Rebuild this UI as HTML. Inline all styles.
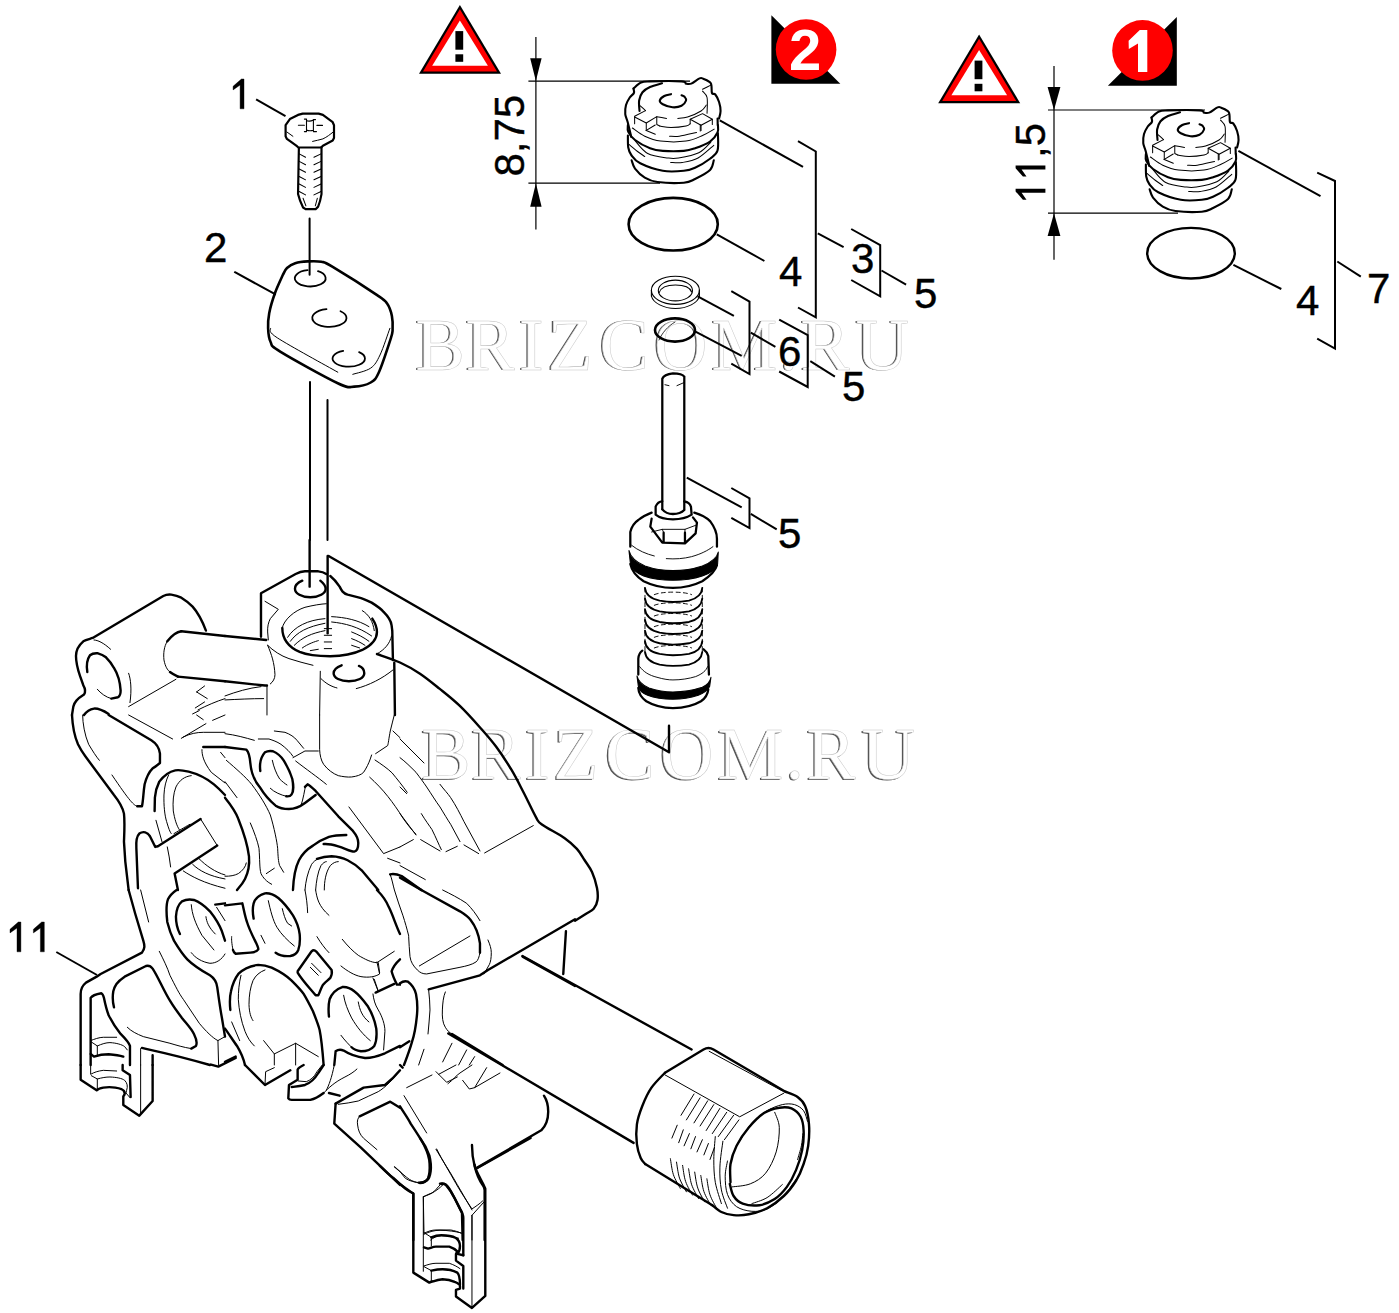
<!DOCTYPE html>
<html><head><meta charset="utf-8">
<style>
html,body{margin:0;padding:0;background:#fff;}
svg{display:block;}
.t{font-family:"Liberation Sans",sans-serif;font-size:42px;fill:#000;stroke:#000;stroke-width:0.4;}
.wm{font-family:"Liberation Serif",serif;font-size:74px;fill:#fff;stroke:#888;stroke-width:0.6;}
.ln{stroke:#000;stroke-width:2;fill:none;stroke-linecap:butt;}
.th{stroke:#000;stroke-width:1.2;fill:none;}
</style></head><body>
<svg width="1399" height="1313" viewBox="0 0 1399 1313">
<defs>
<path id="one" d="M8.3,0 L10.9,0 L10.9,29.8 L7,29.8 L7,6 L0,10.9 L0,7.3 Z"/>
</defs>
<rect width="1399" height="1313" fill="#fff"/>
<g id="wm" style="font-family:'Liberation Serif',serif;font-size:74px">
<g fill="#555" transform="translate(-1.5,0.9)">
<text x="415.4 465.4 519.1 547.4 599.4 654.1 711.6 779.5 800.6 855.6" y="369.5">BRIZCOM.RU</text>
<text x="421.3 471.3 525.0 553.3 605.3 660.0 717.5 785.4 806.5 861.5" y="779">BRIZCOM.RU</text>
</g>
<g fill="#fff" stroke="#c8c8c8" stroke-width="0.5">
<text x="415.4 465.4 519.1 547.4 599.4 654.1 711.6 779.5 800.6 855.6" y="369.5">BRIZCOM.RU</text>
<text x="421.3 471.3 525.0 553.3 605.3 660.0 717.5 785.4 806.5 861.5" y="779">BRIZCOM.RU</text>
</g>
</g>
<g id="labels" class="t">
<use href="#one" x="233.1" y="79"/>
<text x="204" y="262">2</text>
<text x="779" y="286">4</text>
<text x="851" y="273">3</text>
<text x="914" y="308">5</text>
<text x="778" y="366.3">6</text>
<text x="842" y="401.3">5</text>
<text x="778" y="547.5">5</text>
<text x="1296" y="315.1">4</text>
<text x="1367" y="303.4">7</text>
<use href="#one" x="10" y="922"/>
<use href="#one" x="33.4" y="922"/>
</g>
<g id="warn1">
<polygon points="459.9,5 419,73.8 501,73.8" fill="#000"/>
<polygon points="459.9,9.2 423,71.6 497,71.6" fill="#f00"/>
<polygon points="459.9,20.4 432.2,65.8 487.9,65.8" fill="#fff"/>
<rect x="455.4" y="31.1" width="7.8" height="18.6" fill="#000"/>
<rect x="455.4" y="54.3" width="7.8" height="7.5" fill="#000"/>
</g>
<g id="warn2" transform="translate(519.2,29.5)">
<polygon points="459.9,5 419,73.8 501,73.8" fill="#000"/>
<polygon points="459.9,9.2 423,71.6 497,71.6" fill="#f00"/>
<polygon points="459.9,20.4 432.2,65.8 487.9,65.8" fill="#fff"/>
<rect x="455.4" y="31.1" width="7.8" height="18.6" fill="#000"/>
<rect x="455.4" y="54.3" width="7.8" height="7.5" fill="#000"/>
</g>
<g id="num2">
<polygon points="771.4,15.2 771.4,83.8 840.3,83.8" fill="#000"/>
<circle cx="806.1" cy="49.5" r="30.3" fill="#f00"/>
<text x="789" y="69.7" style="font-family:'Liberation Sans',sans-serif;font-weight:bold;font-size:58px;fill:#fff">2</text>
</g>
<g id="num1">
<polygon points="1176.8,16.9 1176.8,85.7 1107.9,85.7" fill="#000"/>
<circle cx="1142.5" cy="50.4" r="30.3" fill="#f00"/>
<path d="M1139.8,30 L1147.3,30 L1147.3,72 L1138,72 L1138,43.6 L1128.8,49 L1128.6,40.8 Z" fill="#fff"/>
</g>
<!-- dimension 8,75 -->
<g id="dim1">
<path class="th" d="M535.9,37 V229.6 M528.4,81.1 H690 M528.4,183.2 H660"/>
<polygon points="535.9,81.1 530.2,58.3 541.6,58.3" fill="#000"/>
<polygon points="535.9,183.2 530.2,206.8 541.6,206.8" fill="#000"/>
<text class="t" transform="translate(523.5,176.5) rotate(-90)">8,75</text>
</g>
<g id="dim2">
<path class="th" d="M1054,66 V259.8 M1048,110 H1205 M1048,213.2 H1178"/>
<polygon points="1054,110 1047.6,87 1060.4,87" fill="#000"/>
<polygon points="1054,213.2 1047.6,236 1060.4,236" fill="#000"/>
<g transform="translate(1045.4,201) rotate(-90)">
<use href="#one" x="1.3" y="-29.8"/>
<use href="#one" x="24.5" y="-29.8"/>
<text class="t" x="43" y="0">,5</text>
</g>
</g>

<g id="valve" transform="translate(615,70) scale(0.09139)" fill="none" stroke="#000" stroke-linejoin="round" stroke-linecap="round">
<g stroke-width="23">
<path d="M202.5,202.6 C216.2,191.7 254.5,149.9 284.6,136.9 C314.7,123.9 309.3,126.6 383.2,124.5 C457.1,122.4 662.3,120.4 728.0,124.5 C793.7,128.6 759.6,145.1 777.4,149.2 C795.2,153.3 810.2,158.8 834.8,149.2 C859.4,139.6 903.3,100.6 925.2,91.7 C947.1,82.8 945.7,86.9 966.2,95.8 C986.7,104.7 1032.7,119.1 1048.4,145.1 C1064.2,171.1 1052.5,231.3 1060.7,251.8 C1068.9,272.3 1084.6,251.9 1097.6,268.3 C1110.6,284.7 1129.1,320.3 1138.7,350.4 C1148.3,380.5 1155.1,418.8 1155.1,448.9 C1155.1,479.0 1141.4,517.3 1138.7,531.0"/>
<path d="M202.5,202.6 C203.2,210.8 213.4,235.4 206.6,251.8 C199.8,268.2 175.9,279.2 161.5,301.1 C147.1,323.0 128.6,353.1 120.4,383.2 C112.2,413.3 109.5,451.7 112.2,481.8 C114.9,511.9 128.6,533.8 136.8,563.9 C145.0,594.0 154.7,634.2 161.5,662.4 C168.3,690.6 175.2,721.2 177.9,733.0"/>
<path d="M514.6,145.1 C492.7,151.9 418.8,169.7 383.2,186.1 C347.6,202.5 320.9,218.9 301.0,243.6 C281.1,268.2 269.6,299.8 264.1,334.0 C258.6,368.2 267.5,429.8 268.2,448.9"/>
<path d="M613.1,264.2 C600.8,267.6 559.7,273.1 539.2,284.7 C518.7,296.3 492.7,318.9 490.0,334.0 C487.3,349.1 499.5,362.7 522.8,375.0 C546.0,387.3 595.3,405.2 629.5,407.9 C663.7,410.6 703.4,403.7 728.0,391.4 C752.6,379.1 771.9,350.4 777.4,334.0 C782.9,317.6 769.1,302.5 760.9,292.9 C752.7,283.3 733.5,279.2 728.0,276.5"/>
<path d="M141.0,602.0 C141.7,614.3 132.0,648.7 145.0,676.0 C158.0,703.3 179.3,736.0 219.0,766.0 C258.7,796.0 332.3,836.2 383.0,856.0 C433.7,875.8 461.3,880.2 523.0,885.0 C584.7,889.8 694.2,889.8 753.0,885.0 C811.8,880.2 828.2,873.0 876.0,856.0 C923.8,839.0 999.0,811.7 1040.0,783.0 C1081.0,754.3 1107.7,714.2 1122.0,684.0 C1136.3,653.8 1125.3,615.7 1126.0,602.0"/>
<path d="M141.0,717.0 C141.7,738.8 138.8,812.5 145.0,848.0 C151.2,883.5 156.2,901.2 178.0,930.0 C199.8,958.8 218.5,992.2 276.0,1021.0 C333.5,1049.8 443.5,1089.3 523.0,1103.0 C602.5,1116.7 694.2,1108.5 753.0,1103.0 C811.8,1097.5 828.2,1092.0 876.0,1070.0 C923.8,1048.0 999.0,1002.5 1040.0,971.0 C1081.0,939.5 1107.7,927.5 1122.0,881.0 C1136.3,834.5 1125.3,723.5 1126.0,692.0"/>
<path d="M182.0,988.0 C188.2,1003.0 195.0,1046.5 219.0,1078.0 C243.0,1109.5 285.0,1152.3 326.0,1177.0 C367.0,1201.7 393.8,1216.5 465.0,1226.0 C536.2,1235.5 684.5,1239.5 753.0,1234.0 C821.5,1228.5 828.2,1216.2 876.0,1193.0 C923.8,1169.8 1005.8,1129.2 1040.0,1095.0 C1074.2,1060.8 1074.2,1005.8 1081.0,988.0"/>
<path d="M1122.3,531.0 C1122.6,542.8 1123.7,590.2 1124.0,602.0"/>
</g>
<g stroke-width="11">
<path d="M190.0,635.0 C212.7,650.0 274.7,701.2 326.0,725.0 C377.3,748.8 422.8,769.2 498.0,778.0 C573.2,786.8 700.3,788.2 777.0,778.0 C853.7,767.8 906.7,738.8 958.0,717.0 C1009.3,695.2 1063.8,658.7 1085.0,647.0"/>
<path d="M153.0,815.0 C168.0,827.3 214.2,867.0 243.0,889.0 C271.8,911.0 312.2,937.3 326.0,947.0"/>
<path d="M219.0,774.0 C242.2,797.3 297.8,882.5 358.0,914.0 C418.2,945.5 523.8,954.8 580.0,963.0 C636.2,971.2 638.8,972.5 695.0,963.0 C751.2,953.5 858.2,934.7 917.0,906.0 C975.8,877.3 1026.2,810.2 1048.0,791.0"/>
<path d="M609.0,1012.0 C630.2,1012.0 686.0,1020.2 736.0,1012.0 C786.0,1003.8 851.5,994.3 909.0,963.0 C966.5,931.7 1052.3,847.2 1081.0,824.0"/>
<path d="M597.0,725.0 C614.7,725.0 653.8,731.8 703.0,725.0 C752.2,718.2 860.5,690.8 892.0,684.0"/>
<path d="M276.4,391.4 C286.0,400.3 324.3,435.9 333.9,444.8"/>
<path d="M958.0,210.8 C973.1,203.3 1033.3,173.1 1048.4,165.6"/>
<path d="M958.0,231.3 C966.2,242.9 999.1,260.7 1007.3,301.1 C1015.5,341.5 1007.3,444.9 1007.3,473.6"/>
<path d="M563.8,531.0 C546.0,527.6 474.9,513.9 457.1,510.5"/>
<path d="M687.0,531.0 C704.8,528.3 751.4,528.3 793.8,514.6 C836.2,500.9 907.4,470.8 941.6,448.9 C975.8,427.0 989.5,394.1 999.1,383.2"/>
<path d="M333.9,444.8 L214.8,506.4 L214.8,588.5"/>
<path d="M214.8,514.6 L342.1,580.3 L342.1,662.4 L440.7,703.5"/>
<path d="M342.1,580.3 L457.1,510.5 L457.1,596.7 L490.0,613.2"/>
<path d="M822.5,588.5 L822.5,539.3 L958.0,477.7 L1064.8,539.3 L1064.8,596.7"/>
<path d="M822.5,539.3 L941.6,605.0 L941.6,662.4"/>
<path d="M941.6,605.0 L1064.8,539.3"/>
<path d="M338.0,663.0 L440.0,602.0"/>
<path d="M933.0,668.0 L933.0,602.0"/>
<path d="M490.0,613.2 C510.5,615.9 565.2,629.6 613.1,629.6 C661.0,629.6 742.5,620.1 777.4,613.2 C812.3,606.4 815.0,592.6 822.5,588.5"/>
</g>
</g>
<use href="#valve" transform="translate(518,29)"/>
<!-- HOUSING -->
<g id="housing" fill="none" stroke="#000" stroke-linejoin="round" stroke-linecap="round">

<!-- Z 400,540 -->
<g transform="translate(400,540) scale(0.13328)">
<g stroke-width="18">


</g>
</g>
<!-- Z 400,715 -->
<g transform="translate(400,715) scale(0.13328)">
<g stroke-width="18">

<path d="M0,1220 L160,1313"/>
</g>
<g stroke-width="7.5">
<path d="M0,180 L180,360 M0,320 C40,350 80,390 120,430 C150,470 180,510 200,540 C240,600 270,650 300,690 C330,740 360,790 380,820 L450,950 M300,520 C330,560 360,590 380,620 C420,680 450,740 480,800 L600,1020 M0,540 L50,590 M0,740 L120,900 M160,740 C190,790 220,830 240,860 C270,920 290,970 310,1010 M0,990 L100,935 M155,935 L300,1020 M345,1025 L430,985 M480,975 L590,1040 M635,1035 L1000,830 M0,1130 L190,1235"/>
</g>
</g>
<!-- Z 575,715 -->
<g transform="translate(575,715) scale(0.13328)">
<g stroke-width="18">


</g>
</g>
<!-- Z 50,890 -->
<g transform="translate(50,890) scale(0.13328)">
<g stroke-width="18">
<path d="M590,0 L640,180 L700,380 C712,420 712,440 690,470 L380,630 L350,650 L270,695 C245,715 230,740 230,780 L230,1313"/>
<path d="M305,1313 L305,810 C315,795 330,785 385,775 C395,780 400,790 405,810 C415,860 425,900 440,940 C460,980 490,1030 530,1080 C560,1110 590,1140 600,1170 L600,1313"/>
<path d="M480,880 C470,840 468,800 475,760 C485,720 500,690 560,650 L720,570 C740,565 755,570 770,590 C790,620 810,660 830,700 C860,760 880,800 900,830 C930,880 960,920 990,960 C1030,1010 1060,1040 1080,1080 C1100,1120 1105,1150 1095,1170 L1060,1190"/>
<path d="M950,0 C920,20 900,40 885,70 C870,110 872,170 880,240 C895,300 910,340 930,380 C960,430 990,480 1030,520 C1070,560 1130,600 1200,640 C1230,660 1250,690 1255,730 C1265,800 1275,880 1290,960 L1313,1100"/>
<path d="M975,330 C955,290 945,250 945,200 C948,140 960,110 990,85 C1020,70 1050,68 1080,75 C1120,90 1160,120 1200,160 C1240,210 1270,260 1290,310 L1313,380"/>
<path d="M1240,110 L1313,100 M690,1185 C800,1210 950,1240 1200,1313 M770,1240 L770,1313"/>
<path d="M305,1230 L330,1250 C360,1240 400,1232 440,1232 C480,1235 520,1240 550,1250"/>
</g>
<g stroke-width="7.5">
<path d="M1060,1190 C1000,1180 950,1165 900,1150 L700,1100 C650,1080 610,1060 580,1030"/>
<path d="M1060,470 C1090,510 1140,540 1200,550 C1250,550 1290,520 1313,480"/>
<path d="M1060,110 C1065,180 1090,250 1140,340 L1230,450 M1170,200 C1175,240 1190,280 1240,330"/>
<path d="M1250,130 L1313,230 M680,0 L740,240"/>
<path d="M820,460 C850,520 880,580 900,640 C940,720 970,780 1000,820 C1040,880 1080,940 1120,1000 C1170,1060 1220,1110 1260,1130 L1313,1100 M1260,1130 L1265,1313 M680,1190 L680,1313"/>
<path d="M305,1130 C330,1120 370,1105 400,1105 L500,1105 M310,1140 L355,1170 L355,1250 M355,1170 C390,1155 420,1145 450,1145 C500,1148 540,1160 560,1175 L580,1200"/>
</g>
</g>
<!-- Z 225,890 -->
<g transform="translate(225,890) scale(0.13328)">
<g stroke-width="18">
<path d="M0,115 L130,100 C140,140 150,200 165,240 C180,290 200,330 225,380 C240,410 250,430 250,445 C240,460 220,468 190,470 L80,478 C70,470 62,460 60,450"/>
<path d="M215,215 C208,180 205,140 215,100 C225,65 250,40 300,25 C330,22 360,30 400,60 C430,85 470,130 510,190 C540,240 555,290 560,330 C565,380 560,420 550,450 C540,475 520,490 490,495 C450,500 410,490 380,470"/>
<path d="M545,610 L650,460 C660,450 675,452 685,462 L800,600 C805,620 800,640 790,660 C770,680 740,700 730,720 C715,750 710,770 700,790 L680,790 C640,740 580,680 545,620"/>
<path d="M40,900 C35,850 35,800 45,760 C55,710 70,670 100,630 C130,600 180,570 250,562 C290,562 320,570 350,582 C410,610 460,640 500,680 C540,720 570,750 590,780 C620,830 640,870 660,910 C680,960 700,1010 710,1050 C720,1100 730,1180 740,1313"/>
<path d="M780,950 C775,900 775,860 785,820 C800,780 830,745 880,728 C910,725 940,735 970,760 C1010,790 1040,830 1070,870 C1100,920 1125,980 1135,1040 C1140,1090 1135,1140 1120,1170 C1100,1195 1070,1210 1020,1210 C990,1205 960,1190 950,1180"/>
<path d="M820,1313 L830,1210 C850,1195 870,1195 890,1205 C920,1225 960,1250 1050,1260 C1100,1262 1150,1245 1200,1225 L1313,1170"/>
<path d="M1140,0 C1180,40 1210,80 1230,130 C1260,190 1280,260 1313,330 M1313,520 C1280,550 1260,580 1250,610 C1260,650 1280,690 1290,710 L1313,710"/>
<path d="M1130,770 L1270,705"/>
<path d="M0,1040 C30,1080 60,1130 90,1170 C120,1220 140,1270 150,1313 M0,1290 L80,1250"/>
</g>
<g stroke-width="7.5">
<path d="M60,450 C50,400 48,370 50,350"/>
<path d="M325,80 C340,150 360,230 390,280 C420,330 470,380 520,420 M430,140 C440,180 450,220 470,250 L500,270 M270,340 L300,400"/>
<path d="M650,550 L720,620 M640,580 L700,640"/>
<path d="M120,640 C105,700 100,760 100,820 C105,900 120,980 150,1060 C170,1110 190,1140 220,1170 M300,600 C260,615 230,640 210,680 C190,730 180,790 180,860 C182,920 195,960 210,980 M50,990 L110,1130"/>
<path d="M290,1130 L370,1230 L370,1313 M370,1230 L530,1150 L700,1250 M530,1150 L530,1313"/>
<path d="M890,790 C900,850 920,900 950,960 C990,1030 1040,1090 1090,1130 M1000,840 C1010,900 1030,950 1080,990 M870,1090 C900,1130 930,1160 950,1180"/>
<path d="M1110,780 C1115,820 1125,860 1150,900 C1180,950 1200,1010 1200,1060 L1190,1200 M1120,670 L1150,760"/>
<path d="M600,0 C610,50 618,110 620,170 M680,0 C690,60 700,120 780,190 M690,350 C720,400 750,440 780,470 M880,370 C920,420 960,460 1000,490 C1050,520 1100,545 1140,545 L1270,460 M870,570 C920,610 970,640 1020,650 C1080,660 1130,650 1160,630 L1140,540 M1150,545 L1160,620 M1110,660 L1150,760"/>
</g>
</g>
<!-- Z 400,890 -->
<g transform="translate(400,890) scale(0.13328)">
<g stroke-width="18">
<path d="M160,0 L450,160 C490,185 510,200 530,225 C565,270 590,330 600,400 L600,470"/>
<path d="M215,745 L600,640 L660,600 L1313,220"/>
<path d="M920,500 L1313,720 M1245,310 L1225,630"/>
<path d="M0,700 C20,685 40,680 60,688 C90,710 110,740 120,780 C130,830 132,880 128,930 C122,1000 110,1080 90,1140 C70,1210 50,1260 30,1313"/>
<path d="M0,1180 L70,1135 M390,1080 L770,1313"/>
</g>
<g stroke-width="7.5">
<path d="M600,470 C595,500 585,530 570,540 C540,560 500,570 450,580 L200,630 C170,630 150,620 130,600 C100,570 80,540 75,500 C70,450 68,400 65,350"/>
<path d="M145,570 L525,345 M320,0 C380,30 440,60 500,100 C540,140 570,180 600,230 M660,375 C675,410 685,440 685,470 C685,510 680,540 670,560 L630,630"/>
<path d="M215,750 C220,800 225,850 225,900 C222,960 215,1020 210,1080 M340,765 C325,800 320,850 318,900 C315,950 320,1000 340,1030 C355,1055 370,1070 390,1080"/>
<path d="M180,1195 L140,1313 M390,1150 L320,1290 M500,1200 L440,1313 M560,1250 L520,1313"/>
</g>
</g>
<!-- Z 575,890 -->
<g transform="translate(575,890) scale(0.13328)">
<g stroke-width="18">



</g>

</g>
<!-- Z 50,1065 -->
<g transform="translate(50,1065) scale(0.13328)">
<g stroke-width="18">
<path d="M230,0 L230,110 L350,190 C360,180 375,175 400,170 C430,165 460,165 490,170 C520,175 545,180 555,195 C565,210 560,225 550,235 L550,300 L670,380 L770,270 L770,0"/>
<path d="M545,0 L545,40 L600,75 L605,240"/>
</g>
<g stroke-width="7.5">
<path d="M305,0 L305,70 C330,55 360,45 400,40 L500,45 M310,80 L355,105 L355,185 M355,105 C390,95 420,90 450,90 C500,92 540,100 560,115 C580,135 585,160 575,190 L570,210 L600,245 M680,0 L680,360"/>
</g>
</g>
<!-- Z 225,1065 -->
<g transform="translate(225,1065) scale(0.13328)">
<g stroke-width="18">
<path d="M150,0 L300,150 L490,40"/>
<path d="M590,0 C570,10 550,20 545,35 L545,110 L480,150 L475,250 C480,258 490,262 500,262 L640,262 C670,255 700,240 740,210"/>
<path d="M500,165 C530,162 560,160 600,150 C640,135 670,110 700,60 L740,0"/>
<path d="M780,210 L860,230"/>
<path d="M830,290 L1040,170 L1200,150 C1240,120 1280,80 1313,40"/>
<path d="M830,290 L820,440 L1020,620 L1313,900"/>
<path d="M1010,385 L1240,275 L1313,320"/>
</g>
<g stroke-width="7.5">
<path d="M300,150 L305,50 L370,20 M550,120 L610,125 C640,115 670,90 690,50 L730,0 M740,210 C780,170 820,130 900,90 C940,70 970,50 990,30 M760,190 C780,150 800,100 820,0"/>
<path d="M850,295 C900,290 950,280 1000,270 C1050,250 1100,220 1150,200 C1200,170 1260,110 1313,40"/>
<path d="M1010,385 C995,400 990,420 995,450 C1000,490 1010,520 1040,550 L1140,635 M1270,765 L1313,800"/>
</g>
</g>
<!-- Z 400,1065 -->
<g transform="translate(400,1065) scale(0.13328)">
<g stroke-width="18">

<path d="M1080,230 C1100,260 1112,300 1112,350 C1112,400 1100,450 1060,490 L580,770"/>
<path d="M0,310 C30,360 60,400 80,440 C120,500 160,560 180,600 C205,650 220,690 222,740 C225,790 222,820 210,850 C195,875 170,885 150,885"/>
<path d="M0,895 L100,965 L100,1313"/>
<path d="M300,890 C320,885 335,890 345,900 C370,930 390,960 410,1000 C430,1040 450,1080 465,1110 L470,1313"/>
<path d="M540,600 C540,650 545,700 560,760 C575,820 590,860 620,900 C630,915 635,925 635,940 L635,1313"/>
<path d="M0,0 L20,20"/>
</g>
<g stroke-width="7.5">
<path d="M150,885 C110,880 70,870 40,850 L0,800"/>
<path d="M180,1260 L175,990 C200,975 220,968 240,960 C265,945 280,920 300,900 M540,1130 L540,1313 M275,630 C320,720 370,800 420,890 C460,960 500,1020 540,1080 C570,1060 600,1040 620,1020"/>
<path d="M30,230 L200,510 M50,170 L240,75 M270,50 L350,130 L430,90 M290,70 L420,0 M360,140 C400,110 420,80 450,60 L540,0 M470,115 L520,180 L560,170 L750,60 M560,170 L650,20"/>
<path d="M180,1270 C220,1250 260,1240 300,1240 C360,1240 420,1250 460,1260 M230,1313 C250,1295 280,1282 310,1280 C360,1282 400,1290 440,1300"/>
</g>
</g>
<!-- fitting -->
<g stroke-width="2.4">
<path d="M730.5,1182.3 C730.5,1179.3 729.5,1170.1 730.5,1164.0 C731.5,1158.0 733.6,1151.9 736.6,1145.8 C739.7,1139.7 744.2,1132.9 748.8,1127.5 C753.4,1122.0 759.0,1116.3 764.0,1113.0 C769.1,1109.7 774.7,1108.4 779.3,1107.7 C783.8,1106.9 787.9,1106.9 791.5,1108.4 C795.0,1110.0 798.6,1113.1 800.6,1116.8 C802.6,1120.5 803.4,1124.9 803.6,1130.5 C803.9,1136.1 803.4,1143.7 802.1,1150.3 C800.9,1156.9 798.6,1164.0 796.0,1170.1 C793.5,1176.2 790.4,1182.1 786.9,1186.9 C783.3,1191.7 779.3,1196.0 774.7,1199.1 C770.1,1202.1 764.8,1204.4 759.5,1205.2 C754.1,1205.9 747.0,1205.2 742.7,1203.6 C738.4,1202.1 735.7,1199.3 733.6,1196.0 C731.4,1192.7 730.4,1185.9 729.8,1183.8"/>
<path d="M785.4,1091.7 C787.4,1092.6 794.3,1094.6 797.6,1097.0 C800.9,1099.4 803.3,1101.6 805.2,1106.2 C807.1,1110.7 808.5,1117.8 809.0,1124.4 C809.5,1131.0 809.1,1139.2 808.2,1145.8 C807.3,1152.4 805.7,1158.2 803.6,1164.0 C801.6,1169.9 799.3,1175.5 796.0,1180.8 C792.7,1186.1 788.7,1191.5 783.8,1196.0 C779.0,1200.6 772.9,1205.2 767.1,1208.2 C761.3,1211.3 754.4,1213.2 748.8,1214.3 C743.2,1215.5 738.1,1215.5 733.6,1215.1 C729.0,1214.7 724.9,1213.7 721.4,1212.0 C717.8,1210.4 713.8,1206.3 712.3,1205.2"/>
<path d="M645.2,1164.0 L712.3,1205.2"/>
<path d="M665.0,1072.7 C662.7,1075.2 655.1,1082.3 651.3,1087.9 C647.5,1093.5 644.6,1100.1 642.2,1106.2 C639.8,1112.3 637.7,1118.1 636.9,1124.4 C636.0,1130.8 636.2,1138.7 636.9,1144.2 C637.5,1149.8 639.3,1154.7 640.7,1158.0 C642.1,1161.3 644.5,1163.0 645.2,1164.0"/>
<path d="M665.0,1072.7 L703.5,1049.5 Q708.5,1046.5 713.5,1049.5 L785.4,1091.7"/>
</g>
<g stroke-width="1.0">
<path d="M709.2,1051.3 L782.3,1090.9"/>
<path d="M665.0,1074.9 L739.7,1116.8 L783.8,1093.2"/>
<path d="M739.7,1141.2 C741.7,1138.1 747.3,1128.0 751.9,1122.9 C756.4,1117.8 762.0,1113.8 767.1,1110.7 C772.2,1107.7 777.8,1105.7 782.3,1104.6 C786.9,1103.6 791.0,1103.6 794.5,1104.6 C798.1,1105.7 801.5,1107.9 803.6,1110.7 C805.8,1113.5 806.8,1119.6 807.5,1121.4"/>
<path d="M727.5,1161.0 C727.1,1163.5 725.2,1170.6 725.2,1176.2 C725.2,1181.8 725.6,1189.4 727.5,1194.5 C729.4,1199.6 732.6,1203.9 736.6,1206.7 C740.7,1209.5 746.8,1210.9 751.9,1211.3 C756.9,1211.6 762.0,1211.3 767.1,1209.0 C772.2,1206.7 777.5,1202.5 782.3,1197.6 C787.1,1192.6 793.7,1182.3 796.0,1179.3"/>
<path d="M797.6,1159.5 C798.2,1157.2 800.5,1150.1 801.4,1145.8 C802.3,1141.4 802.6,1135.6 802.9,1133.6"/>
<path d="M774.7,1112.3 C775.5,1114.8 779.0,1120.9 779.3,1127.5 C779.5,1134.1 778.5,1144.2 776.2,1151.9 C773.9,1159.5 769.9,1167.9 765.6,1173.2 C761.3,1178.5 755.9,1181.6 750.3,1183.8 C744.7,1186.1 735.1,1186.4 732.1,1186.9"/>
<path d="M782.3,1184.6 C779.8,1186.8 772.2,1194.4 767.1,1197.6 C762.0,1200.7 754.4,1202.6 751.9,1203.6"/>
<path d="M715.3,1136.6 C715.0,1140.4 713.8,1151.9 713.8,1159.5 C713.8,1167.1 714.0,1175.0 715.3,1182.3 C716.6,1189.7 720.4,1200.1 721.4,1203.6"/>
<path d="M722.9,1141.2 C722.4,1145.5 720.1,1159.0 719.9,1167.1 C719.6,1175.2 720.1,1183.1 721.4,1189.9 C722.7,1196.8 726.5,1205.2 727.5,1208.2"/>
<path d="M681.0,1115.3 L694.0,1094.0"/>
<path d="M686.4,1119.9 L700.1,1097.8"/>
<path d="M694.0,1122.9 L707.7,1100.8"/>
<path d="M700.1,1126.0 L713.8,1104.6"/>
<path d="M706.2,1130.5 L719.9,1108.4"/>
<path d="M712.3,1133.6 L726.7,1112.3"/>
<path d="M718.3,1136.6 L733.6,1115.3"/>
<path d="M724.4,1139.7 L738.9,1119.9"/>
<path d="M671.9,1138.1 L677.2,1125.2"/>
<path d="M678.7,1142.7 L683.3,1129.8"/>
<path d="M684.1,1145.8 L689.4,1133.6"/>
<path d="M690.9,1148.8 L695.5,1136.6"/>
<path d="M697.0,1151.9 L702.4,1139.7"/>
<path d="M703.9,1154.9 L708.4,1143.5"/>
<path d="M710.0,1159.5 L714.5,1147.3"/>
<path d="M670.4,1158.7 C670.9,1161.4 671.8,1169.8 673.4,1174.7 C675.1,1179.7 679.1,1186.1 680.3,1188.4"/>
<path d="M676.5,1162.1 C677.0,1164.7 677.9,1173.1 679.5,1178.1 C681.2,1183.0 685.2,1189.5 686.4,1191.8"/>
<path d="M682.6,1165.4 C683.1,1168.1 683.9,1176.5 685.6,1181.4 C687.2,1186.4 691.3,1192.8 692.5,1195.1"/>
<path d="M688.6,1168.8 C689.2,1171.4 690.0,1179.8 691.7,1184.8 C693.3,1189.7 697.4,1196.2 698.5,1198.5"/>
<path d="M694.7,1172.1 C695.2,1174.8 696.1,1183.2 697.8,1188.1 C699.4,1193.1 703.5,1199.5 704.6,1201.8"/>
<path d="M700.8,1175.5 C701.3,1178.1 702.2,1186.5 703.9,1191.5 C705.5,1196.4 709.6,1202.9 710.7,1205.2"/>
<path d="M706.9,1178.8 C707.4,1181.5 708.3,1189.9 710.0,1194.8 C711.6,1199.8 715.7,1206.2 716.8,1208.5"/>
</g>
<path d="M328.6,556 L669,752.3 L669,725.7" stroke-width="2.4"/>
<!-- Z 380,1138 foot -->
<g transform="translate(380,1138) scale(0.13328)">
<g stroke-width="18">
<path d="M0,210 C40,250 70,280 100,300 L190,380 C215,400 235,410 250,415 L250,1010 L370,1085 C380,1080 390,1077 400,1075 C430,1065 450,1062 470,1060 C500,1060 530,1065 560,1080 C585,1090 600,1100 600,1110 L600,1130 L570,1140 L570,1190 L690,1275 L790,1185 L790,380 C775,340 755,310 740,280 C725,250 712,220 710,200"/>
<path d="M730,225 L1130,0"/>
<path d="M300,0 C330,40 355,90 370,130 C380,170 385,210 380,250 C375,290 360,315 350,320 C330,332 310,336 290,335"/>
<path d="M460,345 C480,340 500,350 520,380 C550,430 575,480 600,530 C615,555 625,575 625,600 L625,880"/>
<path d="M385,745 C410,735 440,730 460,730 C500,730 540,735 570,750 C590,765 600,790 600,810 C600,840 590,860 580,870 L625,880"/>
<path d="M330,820 L360,830 C380,825 400,815 420,815 L520,815 C550,825 570,840 580,850 L570,870 L570,920 L625,960 L625,1130"/>
<path d="M385,995 C420,988 450,985 470,985 C510,985 550,995 580,1010 C595,1025 600,1050 600,1100"/>
</g>
<g stroke-width="7.5">
<path d="M110,215 C160,260 190,290 220,310 C245,325 270,333 290,335"/>
<path d="M325,440 C360,430 400,412 440,380 C460,365 470,350 480,345 M325,440 L325,1000"/>
<path d="M330,715 C360,700 390,690 420,690 L530,690 C560,695 590,705 610,715 M330,710 L385,745 L385,810"/>
<path d="M330,960 C360,950 390,940 420,940 L520,940 C550,950 580,965 600,980 M330,965 L385,995 L385,1070"/>
<path d="M690,580 L690,1270 M690,580 L780,480 M420,85 C470,170 530,260 580,350 L690,540"/>
</g>
</g>
<path d="M522.4,956 L691.6,1049.5 M448.3,1033.4 L633.6,1142.9" stroke-width="2.4"/>
<path d="M310,382 L310,540 M327.5,400 L327.5,540" stroke-width="2.0"/>
<path stroke-width="2.4" d="M377.0,654.0 C380.8,655.4 392.8,659.2 400.0,662.5 C407.2,665.8 413.4,669.3 420.0,673.7 C426.6,678.1 433.2,683.6 439.8,688.9 C446.4,694.2 452.8,699.1 459.6,705.7 C466.5,712.3 474.8,721.6 480.9,728.5 C487.0,735.4 491.1,739.9 496.2,746.8 C501.3,753.7 506.8,762.1 511.4,769.7 C516.0,777.3 519.5,784.6 523.6,792.5 C527.7,800.4 532.8,811.6 535.8,816.9 C538.8,822.2 537.1,821.0 541.9,824.5 C546.7,828.0 558.9,834.1 564.7,838.2 C570.5,842.3 573.6,845.3 576.9,848.9 C580.2,852.5 582.0,856.1 584.5,860.0 C587.0,863.9 589.9,867.3 592.0,872.0 C594.1,876.7 596.1,883.3 597.0,888.0 C597.9,892.7 598.0,896.5 597.5,900.0 C597.0,903.5 595.7,906.4 593.7,908.7 C591.7,911.0 588.8,912.0 585.7,914.0 C582.6,916.0 576.8,919.6 575.0,920.7"/>
<path stroke-width="2.4" d="M390.1,874.3 C393,873.6 398,874.5 401.6,876 L421.3,890"/>
<path stroke-width="1.0" d="M390.1,874.3 C392,879 393,885 394.4,890 C397,899 400,907 403,915.8 C405,922 407,929 408.7,935.8"/>
<path stroke-width="2.4" d="M211,1064.6 L218.3,1066.6 L235.7,1058"/>
<path stroke-width="1.0" d="M369.7,777.2 C376,783 382,789 387.9,796.5 C393,803 398,810 402.9,818 C407,824 411,829 415.8,834.1 M375,760 C381,764 387,768 392.2,773 C397,779 402,785 407.2,792.3"/>
<!-- Z 50,540 -->
<g transform="translate(50,540) scale(0.13328)">
<g stroke-width="18">
<path d="M985,685 C950,690 920,710 880,760"/>
<path d="M900,990 C920,1005 940,1015 960,1025"/>
<path d="M165,1313 L175,1250 C185,1215 200,1195 255,1160 C268,1140 262,1110 250,1090 L225,1020 C205,960 195,920 195,870 C195,820 215,790 250,760 C270,748 300,742 320,735 L850,420 C870,410 890,408 910,410 C940,415 960,420 980,430 C1020,455 1050,480 1070,500 C1110,545 1140,600 1170,680"/>
<path d="M280,990 C272,940 275,900 300,865 C320,848 340,848 360,850 C390,858 405,868 420,880 C450,910 470,940 480,960 C505,1000 525,1050 530,1130 C530,1160 520,1175 510,1180 L460,1190"/>
<path d="M985,685 L1313,720 M960,1025 L1313,1060"/>
<path d="M255,1313 C275,1285 290,1272 330,1265 C370,1262 400,1280 440,1305"/>
</g>
<g stroke-width="7.5">
<path d="M880,760 C855,800 850,850 855,900 C865,950 880,975 900,990"/>
<path d="M460,1190 C420,1180 380,1150 355,1120"/>
<path d="M330,750 C360,752 400,770 455,820"/>
<path d="M590,1000 C605,1040 615,1120 600,1220"/>

<path d="M590,1250 L945,1045"/>
<path d="M1100,1140 L1160,1095 M1100,1140 L1180,1190 M1090,1260 L1160,1215 M1110,1275 C1180,1240 1250,1210 1313,1190 M1070,1305 L1120,1280"/>
</g>
</g>
<!-- Z 225,540 -->
<g transform="translate(225,540) scale(0.13328)">
<g stroke-width="18">
<path d="M270,725 L270,400 L530,255 C560,240 580,236 600,235 L700,235 C730,238 745,245 760,255"/>
<path d="M790,270 C815,290 840,320 860,350 C875,380 885,400 920,410 L1000,430 C1040,440 1070,455 1100,470 C1140,495 1175,520 1190,540 C1225,575 1245,600 1250,640 L1255,680 L1260,900"/>
<path d="M580,305 C545,320 525,345 525,365 C525,400 575,430 640,430 C705,430 755,400 755,365 C755,345 740,325 715,305"/>
<path d="M430,660 C430,740 470,800 560,840 C620,865 700,872 790,872 C880,872 960,858 1030,825 C1100,790 1140,740 1140,690 C1140,650 1125,620 1105,590"/>
<path d="M770,120 L770,700"/>
<path d="M635,0 L635,350"/>
<path d="M0,720 L310,750 M0,1060 L300,1092 L315,1092"/>
<path d="M875,940 C835,955 815,975 815,1000 C815,1035 865,1060 930,1060 C995,1060 1045,1035 1045,1000 C1045,975 1030,955 1005,945"/>
<path d="M1270,920 L1275,1313 "/>
</g>
<g stroke-width="7.5">
<path d="M315,1092 L315,1313"/>
<path d="M300,460 L400,520 L340,590 C325,620 318,650 320,690 L325,750"/>
<path d="M430,660 C440,600 520,530 600,505 C660,490 720,480 760,478"/>
<path d="M1030,530 C1080,560 1110,610 1120,680"/>
<path d="M470,730 C520,650 620,600 750,590 M800,575 C900,580 1000,600 1080,650"/>
<path d="M490,760 C540,690 620,650 750,625 M800,615 C900,625 1000,650 1100,720"/>
<path d="M520,790 C580,730 650,700 750,680 M950,690 C1000,710 1040,730 1080,760"/>
<path d="M580,810 C620,780 680,760 700,755 M950,740 C990,755 1020,770 1050,790"/>
<path d="M640,830 L700,820 M745,665 L800,665 M745,715 L800,715 M745,765 L800,765 M745,815 L800,815 M950,790 L1010,810"/>
<path d="M320,790 C350,860 370,920 375,1010 C375,1040 360,1065 340,1080"/>
<path d="M320,790 C360,830 420,870 480,890 C540,910 600,925 660,940"/>
<path d="M715,985 L710,1313 M720,1040 C760,1080 800,1100 840,1110 M985,1115 C1080,1090 1180,1040 1260,975"/>
<path d="M1140,855 C1200,820 1235,780 1250,720"/>
<path d="M0,1170 C80,1140 180,1110 270,1100 M0,1200 C100,1195 200,1190 290,1190"/>
</g>
</g>
<!-- Z 50,715 -->
<g transform="translate(50,715) scale(0.13328)">
<g stroke-width="18">
<path d="M165,0 C168,60 180,150 210,220 C230,260 250,290 265,310 L480,600 C520,650 545,690 555,740 C562,800 558,870 555,950 L565,1100 L590,1313"/>
<path d="M440,0 L760,190 C800,215 820,250 825,290 L825,360 C800,380 780,395 770,400 C740,430 720,480 710,520 C700,580 700,640 690,685 L655,685"/>
<path d="M1313,600 C1290,575 1260,545 1230,520 C1180,480 1100,440 1040,425 C1000,415 970,410 940,415 C890,425 850,460 820,500 C800,540 790,580 787,620 L785,720"/>
<path d="M660,1300 L648,1000 C645,950 650,910 670,890 C700,870 730,880 750,910 L790,990 L810,985 L1130,780 M1255,980 L935,1190 L960,1313"/>
<path d="M1150,240 L1313,240"/>
</g>
<g stroke-width="7.5">
<path d="M245,0 C245,60 260,150 290,220 C320,270 345,310 370,340"/>
<path d="M655,685 C630,680 600,650 465,450"/>
<path d="M795,790 C810,840 825,900 840,950 M880,990 C890,1040 900,1090 905,1140"/>
<path d="M1060,455 C1010,460 970,490 945,540 C925,590 920,650 925,720 C935,780 950,830 970,860"/>
<path d="M890,450 C870,490 858,540 855,600 C853,680 860,750 875,800 C890,850 900,880 910,890"/>
<path d="M1130,780 L1255,980"/>
<path d="M930,890 C980,860 1030,830 1050,820"/>
<path d="M1000,1170 C1060,1210 1150,1260 1313,1300 M1070,1120 C1120,1170 1200,1210 1313,1230 M1120,1080 C1170,1130 1240,1180 1313,1200"/>
<path d="M1140,260 C1140,300 1150,350 1210,430 L1313,510 M1280,280 L1313,320"/>
<path d="M590,0 L920,180 M985,175 L1170,65 M1000,165 C1050,140 1100,130 1150,130 L1313,130 M1150,35 L1100,0 M1220,40 L1313,0"/>
</g>
</g>
<!-- Z 225,715 -->
<g transform="translate(225,715) scale(0.13328)">
<g stroke-width="18">
<path d="M0,240 L160,260 C180,280 185,300 190,360 C195,420 210,480 260,540 C290,590 330,640 380,680 C410,700 440,705 480,705 C520,705 560,690 600,660 L680,600"/>
<path d="M265,420 C258,370 265,320 300,280 C320,268 340,268 360,272 C400,290 420,310 440,340 C470,390 490,430 505,480 C515,530 512,580 500,595 C490,610 475,612 460,610"/>
<path d="M600,540 L620,520 C640,530 660,550 680,570 L850,760 L960,870 C985,900 1000,930 1000,960 C1000,1000 995,1020 970,1025 C940,1025 900,1000 850,985 C800,970 770,965 740,968"/>
<path d="M910,900 C860,900 810,905 780,915 C740,930 700,950 660,980 C610,1010 580,1040 555,1090 C530,1140 515,1200 510,1313"/>
<path d="M690,1080 C730,1065 770,1060 800,1060 C850,1062 880,1070 920,1090 C960,1110 1000,1140 1030,1170 L1150,1313"/>
<path d="M0,620 C40,670 80,720 100,780 C140,880 170,980 180,1060 C185,1120 175,1180 150,1230 C130,1270 100,1300 90,1313"/>
</g>
<g stroke-width="7.5">
<path d="M460,610 C420,600 370,580 340,550"/>
<path d="M355,340 C365,390 385,440 410,480 C430,500 450,515 465,525"/>
<path d="M605,530 C595,570 590,620 570,680"/>
<path d="M600,1313 C605,1250 620,1180 650,1120 C665,1100 680,1085 700,1080 M680,1313 C685,1250 695,1180 720,1130 C735,1110 750,1100 760,1100 M745,1313 C745,1250 755,1180 790,1130 C810,1110 830,1100 850,1100"/>
<path d="M0,1210 C40,1210 70,1205 100,1190 C130,1170 155,1140 160,1110"/>
<path d="M10,340 C80,400 160,470 200,520 C260,600 310,680 340,750 C370,850 390,950 395,1000 C398,1060 400,1100 410,1130 L440,1180"/>
<path d="M0,500 L90,620"/>
<path d="M190,810 C220,880 245,950 255,1000 C262,1080 258,1150 270,1190 C285,1220 310,1250 350,1270 M310,1190 L370,1150"/>
<path d="M0,140 C80,150 150,170 220,190 M250,180 L330,180 C360,190 390,200 420,220 C460,250 490,280 510,310 M370,120 L450,130 C490,145 520,165 540,190 L590,250 M510,320 L600,270 L700,270 M530,345 C600,400 700,470 760,520"/>
<path d="M710,0 L710,260 C712,300 720,340 740,370 C770,410 810,440 850,455 C880,462 920,468 950,465 C990,460 1020,450 1040,430 C1060,400 1080,360 1090,330 L1100,300"/>
<path d="M1270,0 C1260,40 1250,80 1240,120 C1230,170 1225,220 1220,230 L1130,290 M930,690 L1190,1040 L1313,990 M1220,1075 L1313,1110 M1260,120 L1313,170"/>
</g>
</g>
</g>

<!-- PARTS -->
<g id="parts" fill="none" stroke="#000" stroke-linejoin="round" stroke-linecap="round">
<!-- screw -->
<g transform="translate(200,60) scale(0.16759)">
<g stroke-width="13">

<path d="M590,525 L585,800 C592,830 600,850 615,880 L630,890 L690,890 L705,875 C715,850 720,830 725,800 L725,520"/>

</g>
<g stroke-width="6">


<path d="M592,560 L630,580 M592,605 L630,625 M592,650 L630,670 M592,695 L630,715 M592,740 L630,760 M592,785 L630,805 M680,580 L722,560 M680,625 L722,605 M680,670 L722,650 M680,715 L722,695 M680,760 L722,740 M680,805 L722,785 M615,825 L632,870 M700,825 L688,870"/>
</g>
</g>
<g id="screwhead" fill="none" stroke="#000" stroke-linejoin="round">
<path stroke-width="2.2" d="M285.6,125.2 L289.9,119.1 L298,114.9 L302.7,113.6 L318.6,113.6 L322.9,114.9 L332.7,122.2 L334,125.2 L334,138 L332.7,140.6 L322.9,145.7 L321.2,147.5 L298.4,147.5 L296.3,145.7 L286.9,138.9 L285.6,136.3 Z"/>
<path stroke-width="1" d="M286.9,132 L292.9,136.3 M312.6,141.4 C316,140.6 319,140 322.9,138.9 C327,137 330,134.5 333.2,132"/>
<path stroke-width="1.1" d="M298.4,125.2 L304.4,125.2 M316.9,125.4 L322.5,125.4 M304.4,119.1 L306.5,119.1 L306.5,131.6 L304.4,131.6 M315.5,119.6 L313.4,119.6 L313.4,131.6 L316.5,131.6 M306.5,120.5 C308.5,121.5 310.5,121.5 313.4,120 M306.5,130 C308.5,131 311,131 313.4,130.3"/>
</g>
<!-- plate -->
<g fill="none" stroke="#000" stroke-linejoin="round" stroke-linecap="round">
<path stroke-width="2.6" d="M282.9,274.8 C283.6,273.7 284.9,269.9 287.0,268.0 C289.1,266.1 291.8,264.3 295.2,263.2 C298.6,262.1 303.2,261.6 307.6,261.4 C312.0,261.2 317.2,260.9 321.3,261.8 C325.4,262.7 322.9,261.0 332.3,266.6 C341.7,272.2 368.4,289.2 377.5,295.4 C386.6,301.6 384.7,300.2 387.1,303.6 C389.5,307.0 391.0,311.6 391.9,316.0 C392.8,320.4 392.8,325.8 392.6,329.7 C392.4,333.6 392.8,332.2 390.5,339.3 C388.2,346.4 382.2,365.0 378.9,372.2 C375.6,379.4 374.8,380.1 370.7,382.5 C366.6,384.9 359.7,386.5 354.2,386.6 C348.7,386.7 350.1,389.0 337.8,383.2 C325.5,377.4 291.4,358.5 280.2,351.6 C269.0,344.7 272.6,345.9 270.6,342.0 C268.6,338.1 268.3,333.1 268.1,328.3 C267.9,323.5 268.1,319.1 269.2,313.2 C270.3,307.3 272.7,299.4 275.0,293.0 C277.3,286.6 281.6,277.8 282.9,274.8"/>
<path stroke-width="1.0" d="M270.6,328.3 C271.7,329.9 266.2,330.6 277.4,337.9 C288.6,345.2 327.7,366.5 337.8,372.2"/>
<path stroke-width="1.0" d="M352.8,374.3 C355.8,373.3 366.2,371.3 370.7,368.1 C375.2,364.9 376.8,361.6 380.0,355.0 C383.2,348.4 388.2,332.8 389.9,328.3"/>
<path stroke-width="1.8" d="M318.0,271.2 A15.4,8.2 0 1 1 307.6,270.2"/>
<path stroke-width="1.8" d="M340.5,311.2 A17.1,8.9 0 1 1 326.5,309.2"/>
<path stroke-width="1.8" d="M359.1,352.2 A16.2,8.2 0 1 1 343.2,350.8"/>
<path stroke-width="2.0" d="M309.6,218.4 L309.6,274.8 M310,383.2 L310,400"/>
</g>
<path d="M135,820 L290,905" transform="translate(200,60) scale(0.2588)" stroke-width="8"/>
<!-- o-rings -->
<ellipse cx="673.2" cy="224.2" rx="44.6" ry="26.3" stroke-width="2.6"/>
<ellipse cx="1191" cy="253.2" rx="43.8" ry="25.3" stroke-width="2.4"/>
<!-- washer -->
<g stroke-width="1.1">
<ellipse cx="675.4" cy="290.3" rx="24" ry="14.1"/>
<path d="M651.4,296 C653,303 664,308.5 675.4,308.5 C687,308.5 698,303 699.4,296"/>
<ellipse cx="675.4" cy="290.5" rx="17.1" ry="10.4"/>
<path d="M659.2,292.6 C661,287 667,285 675.4,285 C684,285 690,287 691.6,292"/>
<path d="M651.4,290 L651.4,296 M699.4,290 L699.4,296"/>
</g>
<!-- small o-ring -->
<ellipse cx="675" cy="330" rx="20" ry="11.6" stroke-width="2.6"/>
<path d="M659,340 C662,333 668,326 675,322" stroke-width="0.8"/>
<!-- piston -->
<g transform="translate(585,520) scale(0.13328)">
<g stroke-width="17">
<path d="M580,-1060 C590,-1085 620,-1095 660,-1100 C700,-1100 735,-1090 745,-1075 M580,-1060 L580,-80 M745,-1075 L745,-80"/>
<path d="M530,-100 C540,-125 555,-140 580,-140 M745,-140 C770,-135 790,-120 795,-100 L800,-40 M530,-100 L530,-40 C560,-15 610,-5 660,-5 C720,-5 770,-20 800,-40"/>
<path d="M580,-80 C600,-55 630,-45 660,-45 C700,-45 730,-60 745,-75"/>
<path d="M500,-10 L490,50 L580,170 L750,175 L830,100 L840,20 L810,-20 M590,95 L590,170 M750,95 L750,175"/>
<path d="M340,200 L340,90 C350,50 370,20 400,0 C430,-25 460,-40 500,-55 M820,-55 C870,-40 910,-20 940,10 C970,50 990,90 990,140 L990,200"/>
<path d="M340,330 C350,380 380,420 440,460 C500,490 580,510 660,510 C740,510 820,490 880,460 C940,420 980,380 990,340"/>
<path d="M400,1160 L400,1040 C402,1010 410,995 430,980 M930,1160 L925,1020 C920,1000 910,985 890,970"/>
<path d="M400,1260 C402,1300 420,1330 460,1360 C510,1390 590,1410 660,1412 C740,1410 820,1390 870,1360 C905,1335 922,1300 925,1270"/>
</g>
<path fill="#000" stroke-width="8" d="M330,230 C345,290 390,320 450,345 C520,370 600,380 660,380 C740,380 820,365 880,345 C940,320 990,290 1000,240 L995,330 C980,375 940,400 880,420 C820,440 740,452 660,452 C580,452 500,440 440,420 C390,400 350,370 340,320 Z"/>
<path fill="#000" stroke-width="8" d="M390,1170 C400,1215 430,1240 480,1260 C540,1280 600,1290 660,1290 C740,1290 820,1275 880,1255 C920,1235 940,1210 945,1180 L935,1250 C920,1280 890,1300 850,1315 C790,1335 720,1345 660,1345 C590,1345 520,1335 470,1315 C430,1300 405,1275 400,1245 Z"/>
<g stroke-width="7">
<path d="M600,-1015 L630,-1008 M690,-1008 L740,-1030"/>
<path d="M500,90 L580,70 L750,70 L830,40 M580,70 L590,95 M750,70 L750,95"/>
<path d="M350,190 C400,230 460,255 520,270 M610,290 C680,295 740,290 800,275 C870,255 920,230 960,200"/>
<path d="M410,1100 C440,1140 480,1165 540,1180 C590,1195 630,1200 660,1200 C720,1200 780,1190 830,1175 C880,1155 910,1130 920,1100"/>
</g>
<g stroke-width="14">
<path d="M450,510 C455,560 490,590 560,605 C600,612 630,615 660,615 C700,615 740,612 780,605 C840,590 875,560 880,510"/>
<path d="M450,590 C455,640 490,670 560,685 C600,692 630,695 660,695 C700,695 740,692 780,685 C840,670 875,640 880,590"/>
<path d="M450,670 C455,720 490,750 560,765 C600,772 630,775 660,775 C700,775 740,772 780,765 C840,750 875,720 880,670"/>
<path d="M450,750 C455,800 490,830 560,845 C600,852 630,855 660,855 C700,855 740,852 780,845 C840,830 875,800 880,750"/>
<path d="M450,830 C455,880 490,910 560,925 C600,932 630,935 660,935 C700,935 740,932 780,925 C840,910 875,880 880,830"/>
<path d="M450,910 C455,960 490,990 560,1005 C600,1012 630,1015 660,1015 C700,1015 740,1012 780,1005 C840,990 875,960 880,910"/>
<path d="M450,990 C455,1040 490,1070 560,1085 C600,1092 630,1095 660,1095 C700,1095 740,1092 780,1085 C840,1070 875,1040 880,990"/>
</g>
<g stroke-width="7" stroke-dasharray="30 25">
<path d="M520,560 C580,535 740,535 800,560 M520,640 C580,615 740,615 800,640 M520,720 C580,695 740,695 800,720 M520,800 C580,775 740,775 800,800 M520,880 C580,855 740,855 800,880 M520,960 C580,935 740,935 800,960"/>
<path d="M450,510 L450,990 M880,510 L880,990"/>
</g>
</g>
</g>
<!-- leaders & brackets -->
<g class="ln">
<path d="M256.1,99.4 L285.5,116.1"/>
<path d="M716.8,234.3 L764.4,261"/>
<path d="M719.8,120.4 L803,166.9"/>
<path d="M798,141.2 L815.8,151.5 V317.4 L798,307.5"/>
<path d="M817.8,233.3 L843.6,247.1"/>
<path d="M851.2,229 L880.2,245.1 V296.4 L851.2,280"/>
<path d="M881.5,270.5 L906.1,284.7"/>
<path d="M697.7,296.4 L733.9,315.8"/>
<path d="M695,331.3 L741.7,355.9"/>
<path d="M731.3,291.2 L749.5,301.6 V374 L731.3,363.7"/>
<path d="M750.8,332.6 L775.4,346.9"/>
<path d="M779.2,319.7 L807.7,335.2 V387 L779.2,371.5"/>
<path d="M810.3,361.1 L834.9,376.7"/>
<path d="M686.8,477.6 L741.7,507.4"/>
<path d="M731.3,488 L749.5,498.4 V528.1 L731.3,517.8"/>
<path d="M750.8,513.9 L776.7,529.4"/>
<path d="M1233.4,264.8 L1281.3,289"/>
<path d="M1238.4,150.9 L1320.5,196.1"/>
<path d="M1317.2,172.6 L1335,181 V348.6 L1317.2,338.6"/>
<path d="M1337.3,261.5 L1360.8,276.6"/>
<path d="M56.3,952 L97,975"/>
</g>
</svg>
</body></html>
